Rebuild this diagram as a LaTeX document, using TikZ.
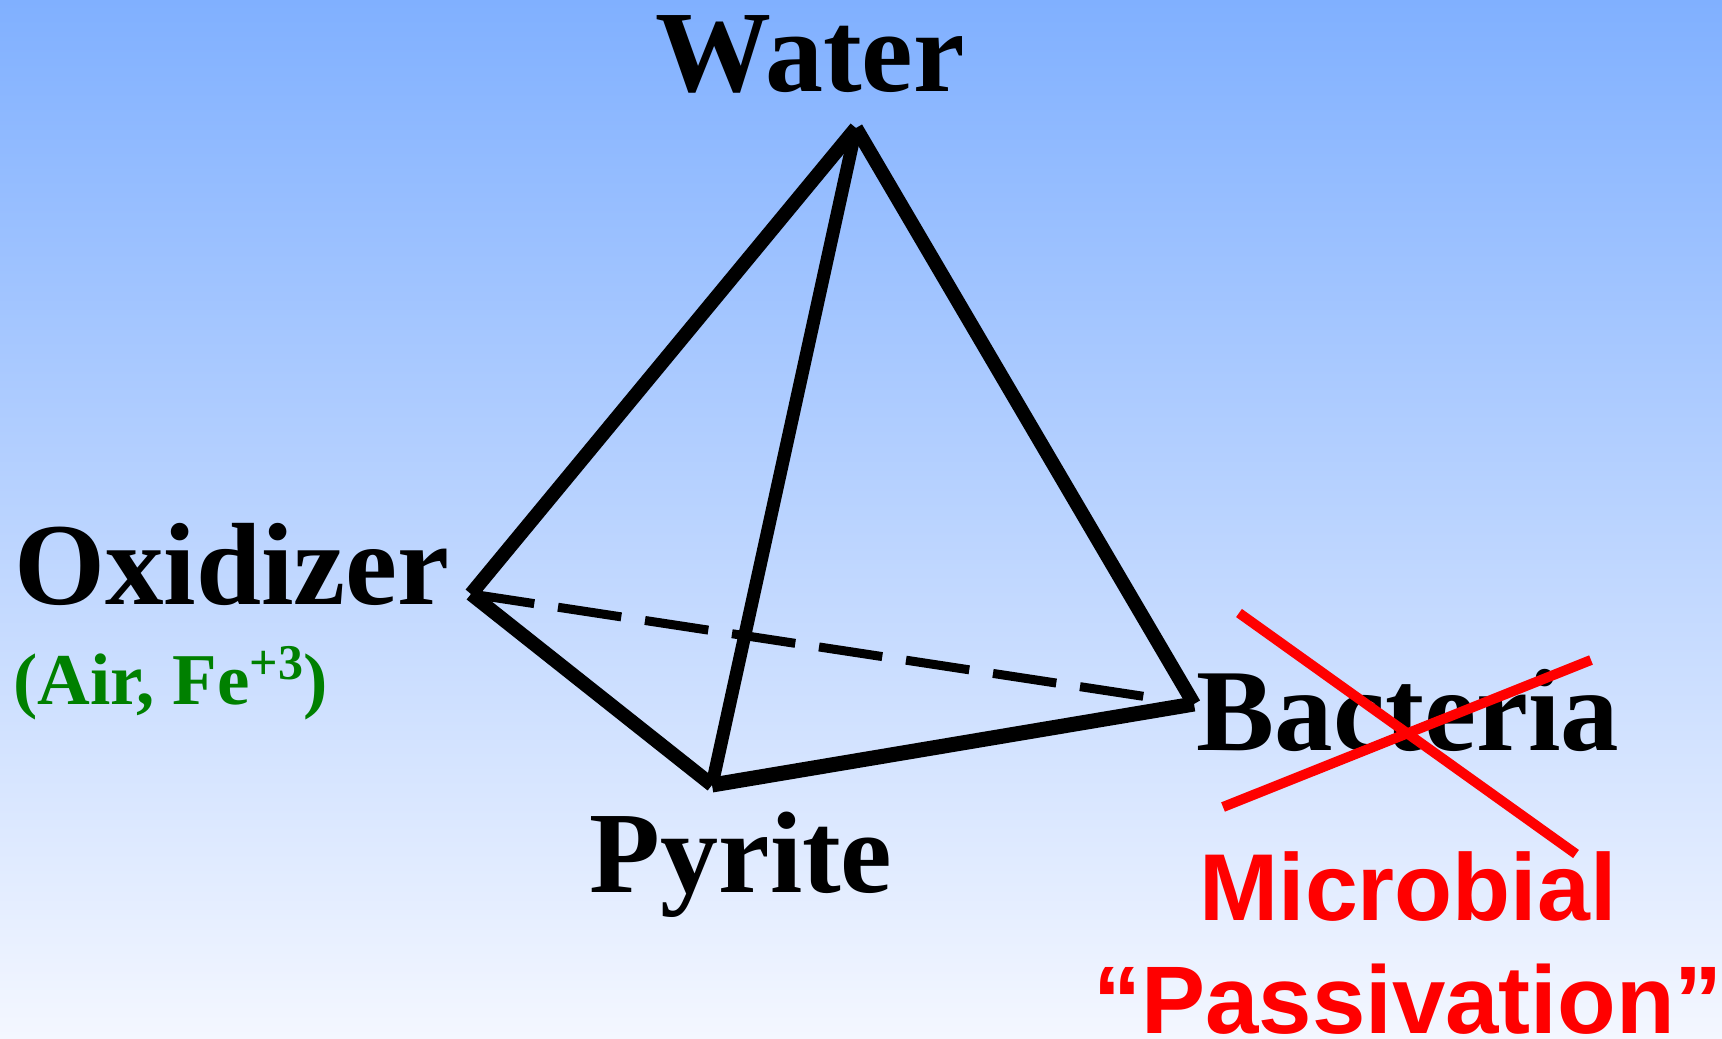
\documentclass[tikz,border=0pt]{standalone}
\usepackage{fontspec}
\setmainfont{Liberation Serif}
\newfontfamily\labsans{Liberation Sans}
\definecolor{bgtop}{RGB}{128,176,255}
\definecolor{bgbot}{RGB}{244,247,255}
\definecolor{oxgreen}{RGB}{0,128,0}
\definecolor{xred}{RGB}{255,0,0}
\begin{document}
\begin{tikzpicture}[x=1pt,y=1pt,
  lab/.style={inner sep=0pt,font=\fontsize{116}{130}\selectfont\bfseries},
  edge/.style={line width=14pt,line cap=butt,line join=miter},
  hidden/.style={line width=9pt,dash pattern=on 64pt off 24pt},
  cross/.style={xred,line width=10pt},
  redlab/.style={inner sep=0pt,text=xred,font=\fontsize{95}{110}\selectfont\labsans\bfseries}]
\shade[top color=bgtop,bottom color=bgbot] (0,0) rectangle (1722,-1039);
\useasboundingbox (0,0) rectangle (1722,-1039);
% vertices
\coordinate (W) at (856,-128);
\coordinate (O) at (471,-594);
\coordinate (P) at (712,-785);
\coordinate (B) at (1194,-704);
% edges
\draw[hidden,shorten >=40pt] (O) -- (B);
\draw[edge] (W) -- (O);
\draw[edge] (W) -- (B);
\draw[edge,line width=13pt] (W) -- (P);
\draw[edge] (O) -- (P);
\draw[edge,line width=15pt] (P) -- (B);
% labels
\node[lab,anchor=base] (water) at (810,-91) {Water};
\node[lab,font=\fontsize{117}{130}\selectfont\bfseries,anchor=base] (oxid) at (232,-604) {Oxidizer};
\node[inner sep=0pt,anchor=base west,text=oxgreen,font=\fontsize{73}{85}\selectfont\bfseries] (air) at (13,-704) {(Air, Fe\raisebox{0.34em}{\fontsize{50}{54}\selectfont +3})};
\node[lab,anchor=base] (pyr) at (741,-892) {Pyrite};
\node[lab,font=\fontsize{117}{130}\selectfont\bfseries,anchor=base] (bact) at (1408,-750) {Bacteria};
% red cross
\coordinate (X1a) at (1239,-613);
\coordinate (X1b) at (1576,-854);
\coordinate (X2a) at (1223,-807);
\coordinate (X2b) at (1591,-660);
\draw[cross] (X1a) -- (X1b);
\draw[cross] (X2a) -- (X2b);
\node[redlab,anchor=base] (micro) at (1408,-920) {Microbial};
\node[redlab,font=\fontsize{96}{110}\selectfont\labsans\bfseries,anchor=base] (pass) at (1408,-1033) {“Passivation”};
\end{tikzpicture}
\end{document}
